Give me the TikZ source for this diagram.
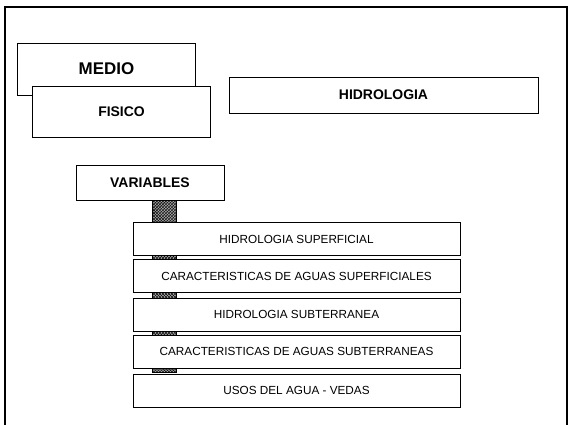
\documentclass[tikz,border=0pt]{standalone}
\usepackage{fontspec}
\setmainfont{Liberation Sans}
\usepackage{tikz}
\usetikzlibrary{patterns}

\begin{document}
\begin{tikzpicture}[
    x=1bp, y=-1bp,
    box/.style={draw, fill=white, line width=1bp, inner sep=0pt, align=center},
    head/.style={box, font=\bfseries\fontsize{14}{16}\selectfont},
    item/.style={box, minimum width=327bp, minimum height=33bp, font=\fontsize{11.8}{14}\selectfont},
    hatch/.style={draw, line width=0.8bp, fill=black!35, postaction={pattern=crosshatch, pattern color=black}, inner sep=0pt},
    frame/.style={draw, line width=2bp}
]
\useasboundingbox (0,0) rectangle (570,424);
\clip (0,0) rectangle (570,424);
\draw[frame] (5,7) rectangle (567,440);

\node[head, minimum width=177bp, minimum height=52bp, font=\bfseries\fontsize{17}{20}\selectfont] (medio) at (106.5,69) {MEDIO};
\node[head, minimum width=177bp, minimum height=51bp] (fisico) at (121.5,111.5) {FISICO};
\node[head, minimum width=309bp, minimum height=36bp] (hidro) at (383.5,95) {HIDROLOGIA};
\node[head, minimum width=148bp, minimum height=35bp] (vars) at (150,182.5) {VARIABLES};

% enlace rayado detras de la columna
\node[hatch, minimum width=24bp, minimum height=172bp, anchor=north] (enlace) at (164,200) {};

\node[item] (hsup) at (296.5,239) {HIDROLOGIA SUPERFICIAL};
\node[item] (csup) at (296.5,276) {CARACTERISTICAS DE AGUAS SUPERFICIALES};
\node[item] (hsub) at (296.5,314.5) {HIDROLOGIA SUBTERRANEA};
\node[item] (csub) at (296.5,351.5) {CARACTERISTICAS DE AGUAS SUBTERRANEAS};
\node[item] (usos) at (296.5,390.5) {USOS DEL AGUA - VEDAS};
\end{tikzpicture}
\end{document}
